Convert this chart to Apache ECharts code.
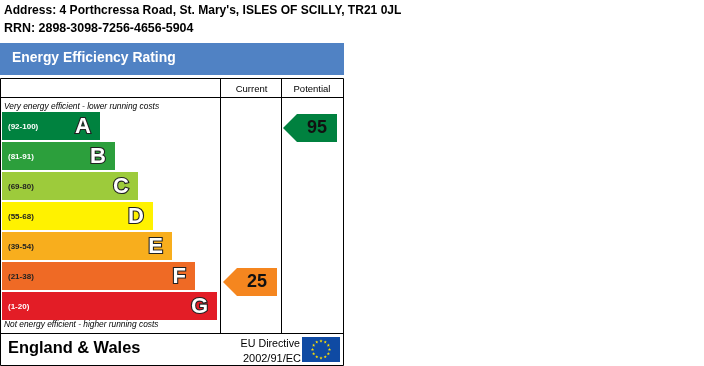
<!DOCTYPE html>
<html><head><meta charset="utf-8">
<style>html,body{margin:0;padding:0;background:#fff}#c{width:704px;height:366px}</style>
<script src="https://cdn.jsdelivr.net/npm/echarts@6/dist/echarts.min.js"></script>
</head><body><div id="c"></div>
<script>
const bands = ['A','B','C','D','E','F','G'];
const ranges = ['(92-100)','(81-91)','(69-80)','(55-68)','(39-54)','(21-38)','(1-20)'];
const bandLengths = [98,113,136,151,170,193,215];
const bandColors = ['#00823f','#2c9f3c','#9dcb3b','#fff200','#f8ae1d','#ef6a25','#e31d26'];
const rangeColors = ['#fff','#fff','#222','#222','#222','#222','#fff'];
const columns = ['Current','Potential'];
const ratings = [25,95];
const ratingColors = ['#f5861f','#00813f'];
const addressLine = "Address: 4 Porthcressa Road, St. Mary's, ISLES OF SCILLY, TR21 0JL";
const rrnLine = 'RRN: 2898-3098-7256-4656-5904';

const FF = '"Liberation Sans", Arial, sans-serif';
const chart = echarts.init(document.getElementById('c'), null, {renderer:'canvas'});

function txt(x,y,t,size,opt){
  return {type:'text',x:x,y:y,silent:true,z:20,style:Object.assign({text:t,fontFamily:FF,fontSize:size,fill:'#000',textVerticalAlign:'middle',textBaseline:'middle'},opt||{})};
}
function ln(x1,y1,x2,y2){
  return {type:'line',silent:true,z:15,shape:{x1:x1,y1:y1,x2:x2,y2:y2},style:{stroke:'#000',lineWidth:1}};
}
const stars = [];
for(let i=0;i<12;i++){
  const a=i*Math.PI/6, cx=321+8.5*Math.sin(a), cy=349.5-8.5*Math.cos(a), pts=[];
  for(let k=0;k<10;k++){
    const r=k%2?0.7:1.7, b=k*Math.PI/5;
    pts.push([cx+r*Math.sin(b),cy-r*Math.cos(b)]);
  }
  stars.push({type:'polygon',silent:true,z:17,shape:{points:pts},style:{fill:'#ffe000'}});
}

const option = {
  animation:false,
  backgroundColor:'#fff',
  grid:[
    {left:2,top:111,width:216,height:210,containLabel:false},
    {left:221,top:117,width:120,height:220}
  ],
  xAxis:[
    {gridIndex:0,type:'value',min:0,max:216,show:false},
    {gridIndex:1,type:'category',data:columns,show:false}
  ],
  yAxis:[
    {gridIndex:0,type:'category',data:bands,inverse:true,show:false},
    {gridIndex:1,type:'value',min:0,max:100,show:false}
  ],
  tooltip:{show:false},
  series:[
    {type:'bar',xAxisIndex:0,yAxisIndex:0,barWidth:28,silent:true,
     data:bandLengths.map((v,i)=>({value:v,itemStyle:{color:bandColors[i]},
       label:{show:true,position:'insideLeft',distance:6,formatter:ranges[i],fontFamily:FF,fontWeight:'bold',fontSize:8,color:rangeColors[i],offset:[0,1]}}))},
    {type:'bar',xAxisIndex:0,yAxisIndex:0,barWidth:28,barGap:'-100%',silent:true,
     itemStyle:{color:'rgba(0,0,0,0)'},
     data:bandLengths.map((v,i)=>({value:v,
       label:{show:true,position:'insideRight',distance:9,formatter:bands[i],fontFamily:FF,fontWeight:'bold',fontSize:22,color:'#fff',textBorderColor:'#222',textBorderWidth:2.2,offset:[0,1]}}))},
    {type:'custom',xAxisIndex:1,yAxisIndex:1,silent:true,
     data:ratings.map((v,i)=>[i,v]),
     renderItem:function(params,api){
       const p=api.coord([api.value(0),api.value(1)]);
       const i=params.dataIndex;
       const cx=p[0], cy=p[1];
       const left=cx-28, corner=cx-14, right=cx+26, h=14;
       return {type:'group',children:[
         {type:'polygon',shape:{points:[[left,cy],[corner,cy-h],[right,cy-h],[right,cy+h],[corner,cy+h]]},style:{fill:ratingColors[i]}},
         {type:'text',x:cx+6,y:cy,style:{text:String(ratings[i]),fontFamily:FF,fontWeight:'bold',fontSize:18,fill:'#111',align:'center',verticalAlign:'middle',textAlign:'center',textVerticalAlign:'middle'}}
       ]};
     }}
  ],
  graphic:[
    txt(4,11,addressLine,12.06,{fontWeight:'bold'}),
    txt(4,29,rrnLine,12.45,{fontWeight:'bold'}),
    {type:'rect',silent:true,z:1,shape:{x:0,y:43,width:344,height:32},style:{fill:'#5082c4'}},
    txt(12,58,'Energy Efficiency Rating',13.9,{fontWeight:'bold',fill:'#fff'}),
    ln(0.5,78.5,343.5,78.5),ln(0.5,97.5,343.5,97.5),ln(0.5,333.5,343.5,333.5),ln(0.5,365.5,343.5,365.5),
    ln(0.5,78.5,0.5,365.5),ln(343.5,78.5,343.5,365.5),ln(220.5,78.5,220.5,333.5),ln(281.5,78.5,281.5,333.5),
    txt(251.5,89,'Current',9.5,{textAlign:'center',align:'center'}),
    txt(312,89,'Potential',9.5,{textAlign:'center',align:'center'}),
    txt(4,107,'Very energy efficient - lower running costs',8.35,{fontStyle:'italic'}),
    txt(4,325,'Not energy efficient - higher running costs',8.35,{fontStyle:'italic'}),
    txt(8,348,'England & Wales',16.4,{fontWeight:'bold'}),
    txt(300,344,'EU Directive',10.7,{textAlign:'right',align:'right'}),
    txt(301,359,'2002/91/EC',11,{textAlign:'right',align:'right'}),
    {type:'rect',silent:true,z:16,shape:{x:302,y:337,width:38,height:25},style:{fill:'#0f4aa3'}}
  ].concat(stars)
};
chart.setOption(option);
</script></body></html>
